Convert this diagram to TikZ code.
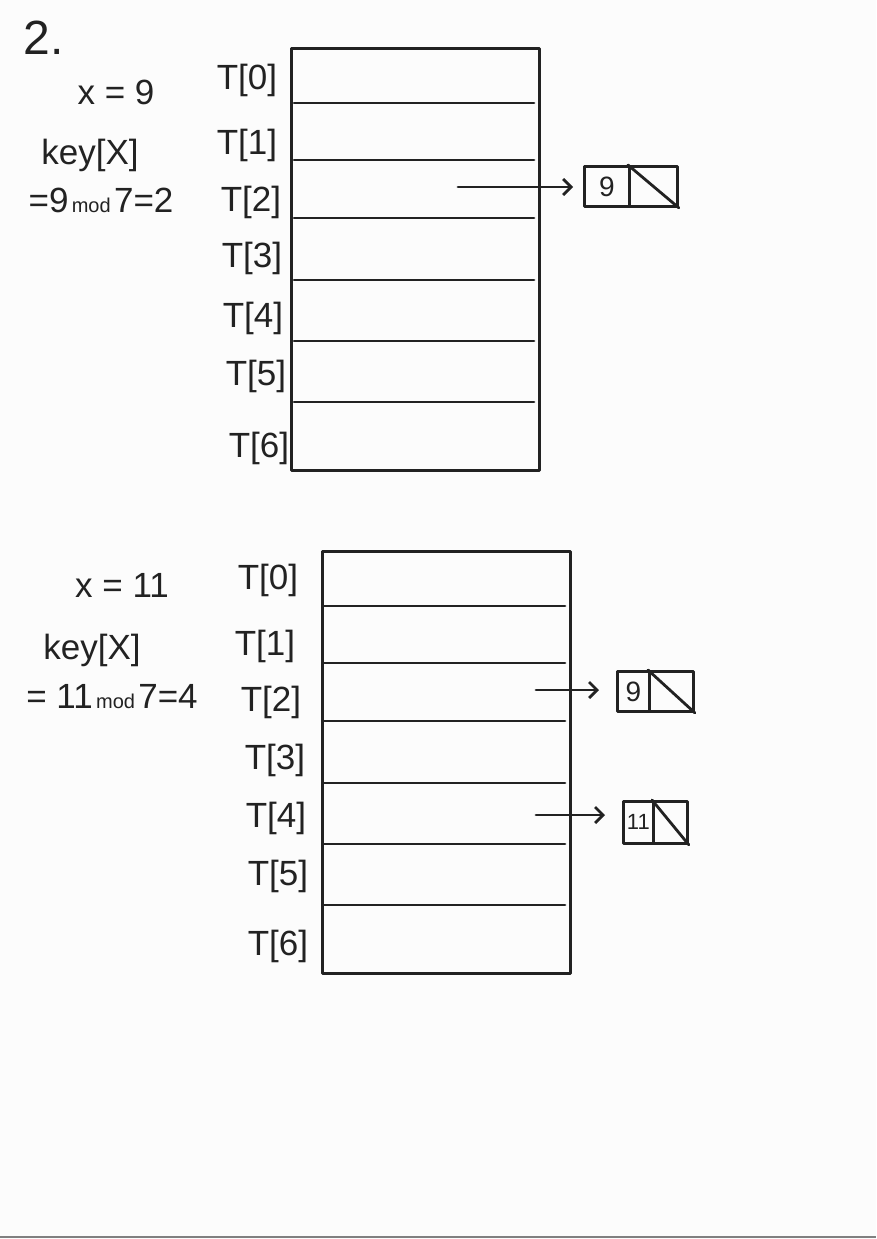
\documentclass[tikz,border=0pt]{standalone}
\usepackage{fontspec}
\setmainfont{Liberation Sans}
\usetikzlibrary{arrows.meta}
\definecolor{bg}{HTML}{FCFCFC}
\definecolor{ink}{HTML}{222222}
\tikzset{
  pen/.style={draw=ink, line width=2.8pt, line cap=round, line join=round},
  lbl/.style={text=ink, font=\fontsize{35}{37}\selectfont, inner sep=0pt},
  note/.style={text=ink, font=\fontsize{35}{37}\selectfont, inner sep=0pt},
  tab/.style={pen, minimum width=248pt, minimum height=422pt, inner sep=0pt},
  kcell/.style={pen, minimum height=40pt, inner sep=0pt, text=ink, font=\fontsize{28}{30}\selectfont},
  ptr/.style={pen, -{Straight Barb[length=8pt,width=16pt,line width=2.8pt]}},
}
\begin{document}
\begin{tikzpicture}[x=1pt,y=-1pt]
\fill[bg] (0,0) rectangle (876,1239);
\useasboundingbox (0,0) rectangle (876,1239);
\draw[gray, line width=2pt] (0,1237) -- (876,1237);

% heading
\node[note, font=\fontsize{48}{50}\selectfont] (num) at (44,38) {2.};

% ---------- first table ----------
\node[note] (x1) at (116,92) {x = 9};
\node[note] (k1) at (90,155) {key[X]};
\node[note] (m1) at (101,200) {=9{\fontsize{20}{22}\selectfont\,mod\,}7=2};

\node[tab, anchor=north west] (t1) at (290,47) {};
\foreach \y in {103,160,218,280,341,402}
  \draw[pen] (294,\y) -- (534,\y);
\node[lbl] (t1l0) at (247,80) {T[0]};
\node[lbl] (t1l1) at (247,145) {T[1]};
\node[lbl] (t1l2) at (251,202) {T[2]};
\node[lbl] (t1l3) at (252,258) {T[3]};
\node[lbl] (t1l4) at (253,318) {T[4]};
\node[lbl] (t1l5) at (256,376) {T[5]};
\node[lbl] (t1l6) at (259,448) {T[6]};

\node[kcell, minimum width=45pt, anchor=north west] (n1k) at (583,165) {9};
\node[kcell, minimum width=48pt, anchor=north west] (n1n) at (628,165) {};
\draw[pen] (n1n.north west) -- (n1n.south east);
\coordinate (a1) at (458,187);
\draw[ptr, shorten >=10pt] (a1) -- (a1 -| n1k.west);

% ---------- second table ----------
\node[note] (x2) at (122,585) {x = 11};
\node[note] (k2) at (92,650) {key[X]};
\node[note] (m2) at (112,697) {= 11{\fontsize{20}{22}\selectfont\,mod\,}7=4};

\node[tab, anchor=north west] (t2) at (321,550) {};
\foreach \y in {606,663,721,783,844,905}
  \draw[pen] (324,\y) -- (565,\y);
\node[lbl] (t2l0) at (268,580) {T[0]};
\node[lbl] (t2l1) at (265,646) {T[1]};
\node[lbl] (t2l2) at (271,702) {T[2]};
\node[lbl] (t2l3) at (275,760) {T[3]};
\node[lbl] (t2l4) at (276,818) {T[4]};
\node[lbl] (t2l5) at (278,876) {T[5]};
\node[lbl] (t2l6) at (278,946) {T[6]};

\node[kcell, minimum width=32pt, anchor=north west] (n2k) at (616,670) {9};
\node[kcell, minimum width=44pt, anchor=north west] (n2n) at (648,670) {};
\draw[pen] (n2n.north west) -- (n2n.south east);
\coordinate (a2) at (536,690);
\draw[ptr, shorten >=17pt] (a2) -- (a2 -| n2k.west);

\node[kcell, minimum width=30pt, minimum height=42pt, anchor=north west, font=\fontsize{22}{24}\selectfont] (n3k) at (622,800) {11};
\node[kcell, minimum width=34pt, minimum height=42pt, anchor=north west] (n3n) at (652,800) {};
\draw[pen] (n3n.north west) -- (n3n.south east);
\coordinate (a3) at (536,815);
\draw[ptr, shorten >=17pt] (a3) -- (a3 -| n3k.west);
\end{tikzpicture}
\end{document}
